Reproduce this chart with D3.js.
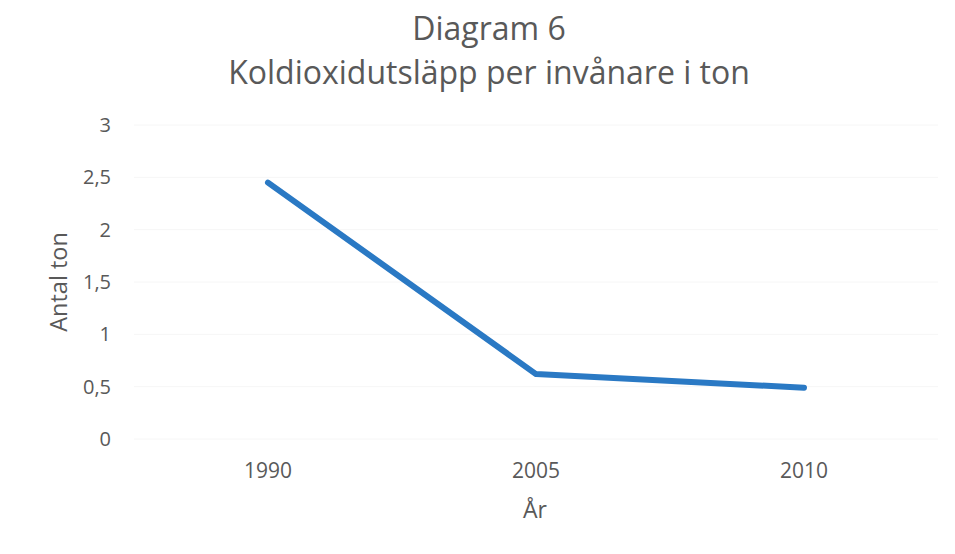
<!DOCTYPE html>
<html>
<head>
<meta charset="utf-8">
<script src="https://cdn.jsdelivr.net/npm/d3@7"></script>
<style>
  body { margin: 0; background: #fff; }
  text { font-family: "Open Sans", "Noto Sans", sans-serif; fill: #595959; }
</style>
</head>
<body>
<script>
// data
var years = ["1990", "2005", "2010"];
var values = [2.45, 0.62, 0.49];
var yTicks = [0, 0.5, 1, 1.5, 2, 2.5, 3];

var w = 955, h = 554;
var svg = d3.select("body").append("svg")
    .attr("width", w)
    .attr("height", h);

var x = d3.scalePoint()
    .domain(years)
    .range([268, 804]);

var y = d3.scaleLinear()
    .domain([0, 3])
    .range([439, 125]);

// faint gridlines
svg.append("g")
    .selectAll("line")
    .data(yTicks)
    .enter()
    .append("line")
    .attr("x1", 134)
    .attr("x2", 938)
    .attr("y1", function(d) { return y(d); })
    .attr("y2", function(d) { return y(d); })
    .style("stroke", "#f6f6f6")
    .style("stroke-width", 1);

// y tick labels
svg.append("g")
    .selectAll("text")
    .data(yTicks)
    .enter()
    .append("text")
    .attr("x", 111)
    .attr("y", function(d) { return y(d); })
    .attr("dy", "0.35em")
    .attr("text-anchor", "end")
    .style("font-size", "20px")
    .text(function(d) { return String(d).replace(".", ","); });

// x tick labels
svg.append("g")
    .selectAll("text")
    .data(years)
    .enter()
    .append("text")
    .attr("x", function(d) { return x(d); })
    .attr("y", 478)
    .attr("text-anchor", "middle")
    .style("font-size", "21px")
    .text(function(d) { return d; });

// line
var line = d3.line()
    .x(function(d, i) { return x(years[i]); })
    .y(function(d) { return y(d); });

svg.append("path")
    .datum(values)
    .attr("d", line)
    .style("fill", "none")
    .style("stroke", "#2a79c4")
    .style("stroke-width", 6)
    .style("stroke-linecap", "round")
    .style("stroke-linejoin", "round");

// titles
svg.append("text")
    .attr("x", 489)
    .attr("y", 40)
    .attr("text-anchor", "middle")
    .style("font-size", "32px")
    .text("Diagram 6");

svg.append("text")
    .attr("x", 489)
    .attr("y", 84)
    .attr("text-anchor", "middle")
    .style("font-size", "32px")
    .text("Koldioxidutsläpp per invånare i ton");

// axis titles
svg.append("text")
    .attr("x", 535)
    .attr("y", 518)
    .attr("text-anchor", "middle")
    .style("font-size", "23px")
    .text("År");

svg.append("text")
    .attr("transform", "translate(67,282) rotate(-90)")
    .attr("text-anchor", "middle")
    .style("font-size", "23.5px")
    .text("Antal ton");
</script>
</body>
</html>
